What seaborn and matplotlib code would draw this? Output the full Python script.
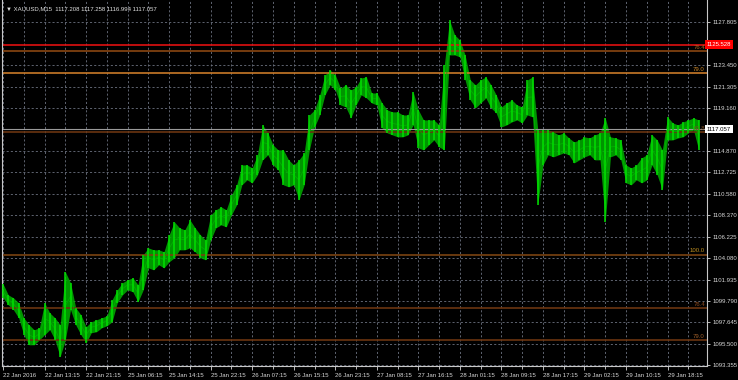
import numpy as np
import pandas as pd
import matplotlib
matplotlib.use("Agg")
import matplotlib.pyplot as plt
import matplotlib.transforms as mtransforms
from matplotlib.ticker import MultipleLocator
import seaborn as sns

# ---- data (M15 bars, sampled every 4 bars: high / low) ----
bar_step = 4
high = [1101.50,1100.40,1100.10,1099.60,1098.09,1097.39,1096.89,1097.09,1099.60,1098.59,
        1098.09,1097.39,1102.71,1101.61,1099.10,1098.39,1097.19,1097.69,1097.89,1098.09,
        1098.29,1099.90,1100.90,1101.61,1101.91,1102.11,1101.41,1104.42,1105.12,1104.92,
        1104.92,1104.72,1106.43,1107.73,1107.13,1106.93,1107.93,1107.13,1106.43,1105.92,
        1108.43,1108.94,1109.24,1108.94,1110.44,1111.45,1113.45,1113.45,1113.15,1114.46,
        1117.47,1116.67,1115.46,1114.96,1114.96,1113.96,1113.45,1113.96,1114.66,1118.47,
        1118.98,1120.48,1122.49,1122.99,1122.49,1121.18,1121.49,1120.98,1121.29,1122.19,
        1122.29,1120.68,1120.68,1119.68,1118.98,1118.78,1118.78,1118.47,1118.47,1120.78,
        1118.98,1117.97,1117.97,1117.97,1117.47,1123.49,1128.01,1126.51,1126.00,1124.50,
        1121.99,1121.49,1121.99,1122.29,1121.49,1120.48,1119.28,1119.68,1119.98,1119.48,
        1119.28,1121.99,1122.29,1116.97,1116.97,1116.97,1116.77,1116.47,1116.67,1116.16,
        1115.76,1115.96,1116.27,1116.16,1116.47,1116.67,1118.17,1116.27,1116.16,1115.96,
        1113.45,1113.15,1113.45,1114.16,1114.46,1116.47,1115.96,1114.96,1118.27,1117.67,
        1117.47,1117.77,1117.97,1118.17,1117.97]
low = [1100.10,1099.40,1098.90,1098.09,1096.39,1095.38,1095.38,1095.88,1096.39,1096.89,
       1095.88,1094.18,1095.88,1098.90,1097.39,1096.39,1095.58,1096.59,1096.69,1097.09,
       1097.29,1097.69,1099.60,1100.40,1100.90,1100.70,1099.70,1100.90,1103.11,1102.91,
       1103.41,1103.11,1103.72,1104.12,1104.92,1104.92,1105.12,1104.72,1104.12,1103.92,
       1105.92,1107.13,1107.43,1107.23,1108.43,1109.44,1111.45,1111.95,1111.65,1112.45,
       1113.96,1114.46,1113.45,1112.95,1111.45,1111.25,1111.45,1109.94,1111.45,1114.96,
       1117.27,1118.47,1120.48,1121.49,1120.98,1119.48,1119.28,1118.17,1119.48,1120.48,
       1120.18,1119.68,1119.48,1117.17,1116.67,1116.47,1116.27,1116.27,1116.47,1117.47,
       1115.16,1114.96,1115.46,1115.96,1115.26,1114.96,1124.50,1124.50,1124.30,1121.99,
       1119.98,1119.18,1119.68,1120.18,1119.18,1118.67,1117.27,1117.47,1117.77,1117.97,
       1117.67,1118.47,1118.27,1109.44,1113.45,1114.46,1114.26,1114.46,1114.66,1114.46,
       1113.65,1113.96,1114.26,1114.46,1113.96,1113.96,1107.73,1114.26,1114.46,1113.96,
       1111.65,1111.45,1111.95,1111.65,1111.95,1113.45,1112.45,1110.94,1115.96,1115.96,
       1116.16,1116.27,1116.67,1116.97,1114.96]

price_ticks = [1127.805, 1123.450, 1121.305, 1119.160, 1114.870, 1112.725, 1110.580,
               1108.370, 1106.225, 1104.080, 1101.935, 1099.790, 1097.645, 1095.500, 1093.355]
date_labels = ["22 Jan 2016", "22 Jan 13:15", "22 Jan 21:15", "25 Jan 06:15", "25 Jan 14:15",
               "25 Jan 22:15", "26 Jan 07:15", "26 Jan 15:15", "26 Jan 23:15", "27 Jan 08:15",
               "27 Jan 16:15", "28 Jan 01:15", "28 Jan 09:15", "28 Jan 17:15", "29 Jan 02:15",
               "29 Jan 10:15", "29 Jan 18:15"]
label_every = 32  # bars between date labels

fib_names = ["76.4", "79.0", "61.8", "100.0", "76.4", "79.0"]
fib_values = [1124.89, 1122.68, 1116.76, 1104.45, 1099.08, 1095.86]
fib_colors = ["#8a4612", "#c97a28", "#6a3410", "#7a4312", "#6a3410", "#6a3410"]
fib_text_colors = ["#b0601e", "#d08a2a", "#7a4a20", "#c09020", "#8a4a20", "#a0602a"]

red_level = 1125.528
bid_price = 1117.057
title = "XAUUSD,M15  1117.208 1117.258 1116.994 1117.057"

# ---- build frame ----
bars = np.arange(len(high)) * bar_step
df = pd.DataFrame({"bar": np.concatenate([bars, bars]),
                   "price": np.concatenate([high, low])})

plt.rcParams["font.family"] = ["Liberation Sans", "DejaVu Sans"]
fig = plt.figure(figsize=(7.38, 3.80), dpi=100, facecolor="black")
ax = fig.add_axes([2 / 738, 14 / 380, 705 / 738, 366 / 380])
ax.set_facecolor("black")

fs = 4.3
grid_color = "#6c7280"
# horizontal grid
for v in price_ticks:
    ax.axhline(v, color=grid_color, lw=0.6, ls=(0, (2.5, 2.5)), zorder=1)
# vertical grid
ax.xaxis.set_minor_locator(MultipleLocator(16))
ax.grid(which="both", axis="x", color=grid_color, lw=0.6, ls=(0, (2.5, 2.5)))
ax.set_axisbelow(True)

# fib / level lines
for v, c in zip(fib_values, fib_colors):
    ax.axhline(v, color=c, lw=1.2, zorder=2)
ax.axhline(bid_price, color="#9a9a9a", lw=0.8, zorder=2)
ax.axhline(red_level, color="#e01010", lw=1.2, zorder=2)

# price bars as a high-low band
sns.lineplot(data=df, x="bar", y="price", estimator="mean", errorbar=("pi", 100),
             color="#00b000", lw=0.6, ax=ax, zorder=3,
             err_kws={"alpha": 0.85, "lw": 0})
ax.vlines(bars, low, high, color="#00e000", lw=1.1, zorder=4)

ax.set_xlim(-0.8, 542.4)
ax.set_ylim(1093.25, 1130.02)

# axes styling
ax.spines["top"].set_visible(False)
for s in ["left", "right", "bottom"]:
    ax.spines[s].set_color("#c8c8c8")
    ax.spines[s].set_linewidth(0.8)

ax.yaxis.tick_right()
ax.set_yticks(price_ticks)
ax.set_yticklabels([f"{v:.3f}" for v in price_ticks])
ax.tick_params(axis="y", colors="#d8d8d8", labelsize=fs, length=2.5, width=0.6, pad=1.5)

ax.set_xticks(np.arange(len(date_labels)) * label_every)
ax.set_xticklabels(date_labels)
for lbl in ax.get_xticklabels():
    lbl.set_ha("left")
ax.tick_params(axis="x", which="major", colors="#d8d8d8", labelsize=fs, length=3,
               width=0.6, pad=2)
ax.tick_params(axis="x", which="minor", colors="#d8d8d8", length=2, width=0.6)
ax.set_xlabel("")
ax.set_ylabel("")

# fib labels
trans = mtransforms.blended_transform_factory(ax.transAxes, ax.transData)
for name, v, tc in zip(fib_names, fib_values, fib_text_colors):
    ax.text(0.997, v + 0.12, name, transform=trans, ha="right", va="bottom",
            fontsize=fs, color=tc, zorder=5)

# price boxes on the right axis
ax.text(1.0, red_level, f"{red_level:.3f}", transform=trans, ha="left", va="center",
        fontsize=fs, color="white", zorder=6, clip_on=False,
        bbox=dict(boxstyle="square,pad=0.3", fc="#ff0000", ec="none"))
ax.text(1.0, bid_price, f"{bid_price:.3f}", transform=trans, ha="left", va="center",
        fontsize=fs, color="black", zorder=6, clip_on=False,
        bbox=dict(boxstyle="square,pad=0.3", fc="white", ec="none"))

fig.text(6 / 738, 1 - 9 / 380, "\u25bc " + title, color="#e0e0e0", fontsize=fs,
         ha="left", va="center")

fig.savefig("out.png", dpi=100, facecolor="black")
